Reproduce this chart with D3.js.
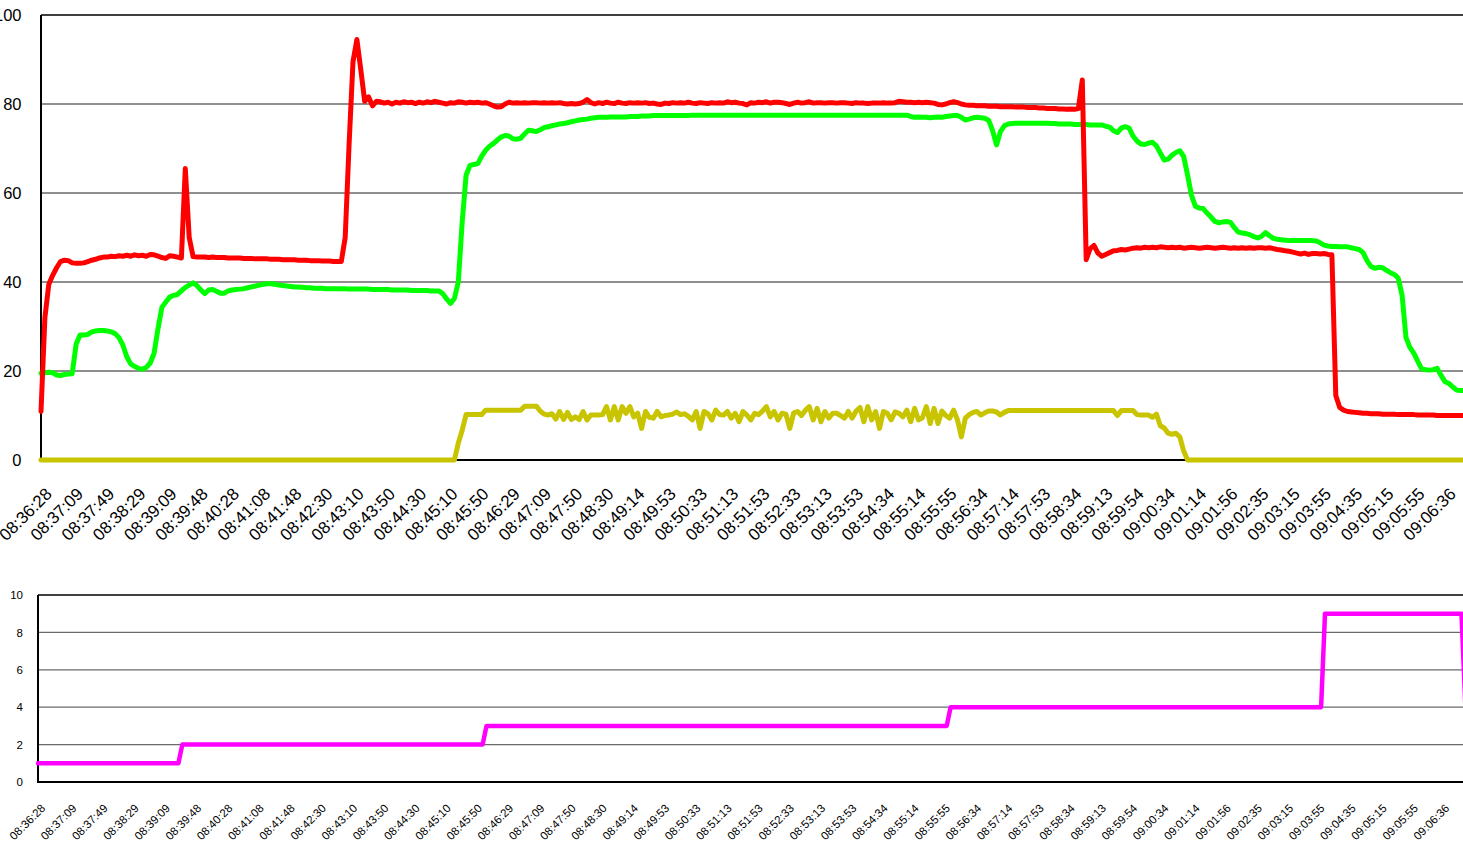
<!DOCTYPE html>
<html><head><meta charset="utf-8">
<script src="https://cdn.jsdelivr.net/npm/d3@7/dist/d3.min.js"></script>
<style>
html,body{margin:0;padding:0;background:#fff;overflow:hidden;}
svg{display:block;font-family:"Liberation Sans",Arial,sans-serif;}
</style></head><body>
<svg id="chart" width="1463" height="841"></svg>
<script>
// ---- data ----
const timeLabels = ["08:36:28","08:37:09","08:37:49","08:38:29","08:39:09","08:39:48","08:40:28","08:41:08","08:41:48","08:42:30","08:43:10","08:43:50","08:44:30","08:45:10","08:45:50","08:46:29","08:47:09","08:47:50","08:48:30","08:49:14","08:49:53","08:50:33","08:51:13","08:51:53","08:52:33","08:53:13","08:53:53","08:54:34","08:55:14","08:55:55","08:56:34","08:57:14","08:57:53","08:58:34","08:59:13","08:59:54","09:00:34","09:01:14","09:01:56","09:02:35","09:03:15","09:03:55","09:04:35","09:05:15","09:05:55","09:06:36"];
const samplesPerLabel = 8;
const topTicks = [0,20,40,60,80,100];
const bottomTicks = [0,2,4,6,8,10];

const redSeries = [
10.9,32,39.5,41.5,43.2,44.6,44.9,44.8,44.3,44.2,
44.2,44.3,44.6,44.9,45.1,45.4,45.6,45.6,45.8,45.7,
45.9,45.8,46.0,45.8,46.1,45.9,46.0,45.8,46.2,46.1,
45.8,45.5,45.3,45.9,45.8,45.6,45.4,65.5,50.0,45.7,
45.6,45.6,45.6,45.5,45.6,45.5,45.5,45.5,45.4,45.4,
45.4,45.4,45.3,45.3,45.3,45.2,45.2,45.2,45.2,45.1,
45.1,45.1,45.0,45.0,45.0,45.0,44.9,44.9,44.9,44.8,
44.8,44.8,44.7,44.7,44.7,44.6,44.6,44.6,50.0,71.0,
89.5,94.5,87.7,80.6,81.6,79.6,80.6,80.5,80.2,80.4,
80.0,80.4,80.2,80.5,80.3,80.4,80.1,80.4,80.2,80.5,
80.3,80.6,80.4,80.2,80.0,80.3,80.2,80.5,80.4,80.2,
80.4,80.3,80.4,80.2,80.3,80.0,79.6,79.3,79.4,80.0,
80.4,80.2,80.3,80.2,80.3,80.2,80.3,80.3,80.2,80.3,
80.2,80.3,80.2,80.3,80.1,80.0,80.1,80.0,80.1,80.4,
81.0,80.3,80.0,80.3,80.1,80.4,80.2,80.1,80.4,80.2,
80.1,80.3,80.2,80.3,80.2,80.3,80.1,80.2,80.0,79.9,
80.2,80.1,80.3,80.2,80.3,80.2,80.4,80.2,80.1,80.3,
80.2,80.1,80.3,80.2,80.3,80.2,80.5,80.3,80.4,80.2,
80.1,79.8,80.3,80.2,80.4,80.3,80.5,80.2,80.4,80.4,
80.3,80.1,79.9,80.2,80.4,80.2,80.3,80.5,80.2,80.3,
80.3,80.2,80.3,80.3,80.2,80.3,80.3,80.2,80.1,80.3,
80.2,80.2,80.1,80.2,80.2,80.2,80.3,80.2,80.2,80.3,
80.6,80.5,80.4,80.4,80.3,80.4,80.3,80.4,80.3,80.2,
79.9,79.8,80.0,80.3,80.5,80.3,80.0,79.8,79.7,79.7,
79.6,79.6,79.6,79.5,79.5,79.5,79.4,79.4,79.4,79.4,
79.3,79.3,79.3,79.2,79.2,79.2,79.1,79.1,79.0,79.0,
79.0,78.9,78.9,78.8,78.9,78.8,79.0,85.4,45.0,47.5,
48.2,46.5,45.8,46.2,46.6,47.0,47.1,47.3,47.2,47.4,
47.6,47.7,47.6,47.8,47.7,47.8,47.7,47.9,47.8,47.7,
47.8,47.7,47.8,47.6,47.7,47.8,47.7,47.6,47.7,47.8,
47.7,47.6,47.7,47.8,47.7,47.6,47.7,47.6,47.7,47.6,
47.7,47.6,47.7,47.7,47.6,47.7,47.5,47.3,47.2,47.0,
46.9,46.7,46.5,46.3,46.5,46.2,46.4,46.4,46.3,46.4,
46.2,46.1,14.5,11.8,11.2,10.9,10.8,10.7,10.6,10.5,
10.5,10.4,10.4,10.4,10.3,10.3,10.3,10.3,10.2,10.2,
10.2,10.2,10.2,10.1,10.1,10.1,10.1,10.1,10.0,10.0,
10.0,10.0,10.0,10.0,10.0,10.0,10.0];

const greenSeries = [
19.5,19.6,19.7,19.6,19.1,19.0,19.2,19.3,19.4,26.0,
28.1,28.1,28.2,28.8,29.0,29.1,29.1,29.0,28.8,28.4,
27.5,25.8,23.2,21.6,21.0,20.6,20.4,20.8,21.8,24.0,
29.5,34.3,35.5,36.6,37.0,37.2,38.0,38.8,39.3,39.8,
39.2,38.2,37.4,38.2,38.3,37.9,37.5,37.5,38.0,38.2,
38.3,38.4,38.5,38.7,38.9,39.1,39.3,39.5,39.6,39.6,
39.5,39.3,39.2,39.1,39.0,38.9,38.9,38.8,38.7,38.7,
38.6,38.6,38.6,38.5,38.5,38.5,38.5,38.5,38.5,38.4,
38.4,38.4,38.4,38.4,38.4,38.3,38.3,38.3,38.3,38.3,
38.2,38.2,38.2,38.2,38.2,38.1,38.1,38.1,38.1,38.1,
38.0,38.0,38.0,37.4,36.2,35.2,36.3,40.0,53.5,64.0,
66.2,66.4,66.6,68.3,69.6,70.5,71.1,71.9,72.6,72.9,
72.8,72.2,72.1,72.3,73.3,74.1,74.0,73.8,74.2,74.7,
74.9,75.1,75.3,75.5,75.6,75.8,76.0,76.2,76.4,76.5,
76.6,76.8,76.9,77.0,77.0,77.0,77.1,77.1,77.1,77.1,
77.1,77.2,77.2,77.2,77.3,77.3,77.3,77.4,77.4,77.4,
77.4,77.4,77.4,77.4,77.4,77.4,77.4,77.5,77.5,77.5,
77.5,77.5,77.5,77.5,77.5,77.5,77.5,77.5,77.5,77.5,
77.5,77.5,77.5,77.5,77.5,77.5,77.5,77.5,77.5,77.5,
77.5,77.5,77.5,77.5,77.5,77.5,77.5,77.5,77.5,77.5,
77.5,77.5,77.5,77.5,77.5,77.5,77.5,77.5,77.5,77.5,
77.5,77.5,77.5,77.5,77.5,77.5,77.5,77.5,77.5,77.5,
77.5,77.5,77.5,77.2,77.0,77.1,77.0,77.0,76.9,77.0,
77.1,77.0,77.2,77.3,77.4,77.4,77.0,76.4,76.6,76.9,
77.0,76.9,76.8,76.3,74.0,70.8,73.8,75.1,75.5,75.6,
75.7,75.7,75.7,75.7,75.7,75.7,75.7,75.7,75.7,75.6,
75.6,75.5,75.5,75.5,75.5,75.4,75.4,75.4,75.4,75.3,
75.3,75.3,75.3,75.0,74.8,74.0,73.6,74.6,74.9,74.6,
72.8,71.7,71.0,70.9,71.2,71.4,70.6,69.0,67.4,67.6,
68.5,69.1,69.5,68.2,64.0,59.5,57.0,56.6,56.5,55.5,
54.6,53.6,53.3,53.5,53.6,53.4,52.2,51.2,51.0,50.9,
50.6,50.2,49.9,50.3,51.1,50.4,49.8,49.6,49.5,49.4,
49.3,49.3,49.3,49.3,49.3,49.3,49.3,49.2,48.8,48.3,
48.1,48.0,48.0,47.9,47.9,47.9,47.7,47.5,47.3,46.6,
44.8,43.5,43.1,43.3,43.2,42.6,42.1,41.7,40.9,37.0,
27.5,25.3,24.0,22.2,20.5,20.3,20.2,20.3,20.6,19.0,
17.6,17.2,16.4,15.7,15.6,15.6,15.6];

const yellowSeries = [
0,0,0,0,0,0,0,0,0,0, 0,0,0,0,0,0,0,0,0,0,
0,0,0,0,0,0,0,0,0,0, 0,0,0,0,0,0,0,0,0,0,
0,0,0,0,0,0,0,0,0,0, 0,0,0,0,0,0,0,0,0,0,
0,0,0,0,0,0,0,0,0,0, 0,0,0,0,0,0,0,0,0,0,
0,0,0,0,0,0,0,0,0,0, 0,0,0,0,0,0,0,0,0,0,
0,0,0,0,0,0,0,3.8,6.7,10.2,
10.2,10.2,10.2,10.2,11.2,11.2,11.2,11.2,11.2,11.2,
11.2,11.2,11.2,11.2,12.1,12.1,12.1,12.1,11.0,10.3,
10.1,10.4,9.2,10.9,9.1,10.7,9.1,9.7,9.1,10.9,
9.0,10.1,10.1,10.1,10.2,12.0,9.0,12.0,9.0,12.0,
10.5,12.0,9.7,10.5,7.1,10.9,9.6,9.4,10.9,9.7,
10.0,10.1,10.3,10.8,10.2,10.4,9.8,9.0,10.9,7.1,
10.9,10.4,9.0,11.2,10.2,10.1,10.9,9.4,10.5,8.6,
10.9,10.1,9.0,10.5,10.2,11.0,12.0,9.7,10.9,9.0,
10.5,10.3,7.1,10.6,10.9,10.0,11.2,12.0,9.0,11.6,
8.6,10.9,9.4,10.5,10.5,10.0,9.4,10.9,9.4,11.0,
11.8,8.6,12.0,9.0,10.9,7.1,10.9,10.5,9.0,10.8,
10.5,9.7,11.2,8.6,11.6,9.0,9.5,12.0,8.2,11.6,
8.2,11.0,10.0,9.4,11.2,9.0,5.2,9.4,10.2,10.7,
10.9,10.1,10.6,11.0,11.0,10.8,10.1,10.7,11.1,11.1,
11.1,11.1,11.1,11.1,11.1,11.1,11.1,11.1,11.1,11.1,
11.1,11.1,11.1,11.1,11.1,11.1,11.1,11.1,11.1,11.1,
11.1,11.1,11.1,11.1,11.1,11.1,10.0,11.1,11.1,11.1,
11.1,10.2,10.1,10.1,10.1,9.6,10.3,7.7,7.2,6.0,
5.8,6.0,5.2,2.0,0,0,0,0,0,0,
0,0,0,0,0,0,0,0,0,0, 0,0,0,0,0,0,0,0,0,0,
0,0,0,0,0,0,0,0,0,0, 0,0,0,0,0,0,0,0,0,0,
0,0,0,0,0,0,0,0,0,0, 0,0,0,0,0,0,0,0,0,0,
0,0,0,0,0,0,0];

const magentaSeries = [
1,1,1,1,1,1,1,1,1,1, 1,1,1,1,1,1,1,1,1,1,
1,1,1,1,1,1,1,1,1,1, 1,1,1,1,1,1,1,2,2,2,
2,2,2,2,2,2,2,2,2,2, 2,2,2,2,2,2,2,2,2,2,
2,2,2,2,2,2,2,2,2,2, 2,2,2,2,2,2,2,2,2,2,
2,2,2,2,2,2,2,2,2,2, 2,2,2,2,2,2,2,2,2,2,
2,2,2,2,2,2,2,2,2,2, 2,2,2,2,2,3,3,3,3,3,
3,3,3,3,3,3,3,3,3,3, 3,3,3,3,3,3,3,3,3,3,
3,3,3,3,3,3,3,3,3,3, 3,3,3,3,3,3,3,3,3,3,
3,3,3,3,3,3,3,3,3,3, 3,3,3,3,3,3,3,3,3,3,
3,3,3,3,3,3,3,3,3,3, 3,3,3,3,3,3,3,3,3,3,
3,3,3,3,3,3,3,3,3,3, 3,3,3,3,3,3,3,3,3,3,
3,3,3,3,3,3,3,3,3,3, 3,3,3,3,4,4,4,4,4,4,
4,4,4,4,4,4,4,4,4,4, 4,4,4,4,4,4,4,4,4,4,
4,4,4,4,4,4,4,4,4,4, 4,4,4,4,4,4,4,4,4,4,
4,4,4,4,4,4,4,4,4,4, 4,4,4,4,4,4,4,4,4,4,
4,4,4,4,4,4,4,4,4,4, 4,4,4,4,4,4,4,4,4,4,
4,4,4,4,4,4,4,4,4,4, 9,9,9,9,9,9,9,9,9,9,
9,9,9,9,9,9,9,9,9,9, 9,9,9,9,9,9,9,9,9,9,
9,9,9,9,9,9,4];

// ---- drawing ----
const svg = d3.select("#chart");
const font = '"Liberation Sans", Arial, sans-serif';
const labelStep = 31.2;
const lastLabelIdx = (timeLabels.length - 1) * samplesPerLabel;

function panel(cfg) {
  const x = d3.scaleLinear().domain([0, lastLabelIdx])
    .range([cfg.left, cfg.left + (timeLabels.length - 1) * labelStep]);
  const y = d3.scaleLinear().domain(cfg.yDomain).range([cfg.bottom, cfg.top]);
  const g = svg.append("g");
  const right = 1470;

  // grid lines
  g.append("g").selectAll("line").data(cfg.yTicks.filter(t => t !== cfg.yDomain[0] && t !== cfg.yDomain[1]))
    .join("line")
    .attr("x1", cfg.left).attr("x2", right)
    .attr("y1", d => y(d)).attr("y2", d => y(d))
    .attr("stroke", "#6a6a6a").attr("stroke-width", 1.3);
  // top border
  g.append("line").attr("x1", cfg.left).attr("x2", right)
    .attr("y1", y(cfg.yDomain[1])).attr("y2", y(cfg.yDomain[1]))
    .attr("stroke", "#000").attr("stroke-width", 1.5);
  // bottom axis
  g.append("line").attr("x1", cfg.left).attr("x2", right)
    .attr("y1", y(cfg.yDomain[0])).attr("y2", y(cfg.yDomain[0]))
    .attr("stroke", "#000").attr("stroke-width", 2);
  // left axis
  g.append("line").attr("x1", cfg.left).attr("x2", cfg.left)
    .attr("y1", y(cfg.yDomain[0]) + 1).attr("y2", y(cfg.yDomain[1]))
    .attr("stroke", "#000").attr("stroke-width", 2);

  // y tick labels
  g.append("g").selectAll("text").data(cfg.yTicks).join("text")
    .attr("x", cfg.yLabelX).attr("y", d => y(d))
    .attr("dy", "0.36em").attr("text-anchor", "end")
    .attr("font-family", font).attr("font-size", cfg.yFont).attr("fill", "#000")
    .text(d => d);

  // x tick labels
  const tickIdx = timeLabels.map((t, k) => k * samplesPerLabel);
  g.append("g").selectAll("text").data(tickIdx).join("text")
    .attr("transform", (d) => `translate(${x(d) + cfg.xLabelDx},${cfg.xLabelY}) rotate(-45)`)
    .attr("text-anchor", "end")
    .attr("font-family", font).attr("font-size", cfg.xFont).attr("fill", "#000")
    .text((d, k) => timeLabels[k]);

  // series lines
  const line = d3.line().x((d, i) => x(i)).y(d => y(d));
  cfg.series.forEach(s => {
    g.append("path").datum(s.values)
      .attr("d", line).attr("fill", "none")
      .attr("stroke", s.color).attr("stroke-width", s.width)
      .attr("stroke-linejoin", "round").attr("stroke-linecap", "round");
  });
}

panel({
  left: 41, top: 15, bottom: 460, yDomain: [0, 100], yTicks: topTicks,
  yLabelX: 21.5, yFont: 16.5, xFont: 17, xLabelDx: 12, xLabelY: 495,
  series: [
    {values: greenSeries, color: "#00ff00", width: 5},
    {values: redSeries, color: "#ff0000", width: 5},
    {values: yellowSeries, color: "#c8c400", width: 5}
  ]
});

panel({
  left: 38, top: 595, bottom: 782, yDomain: [0, 10], yTicks: bottomTicks,
  yLabelX: 23, yFont: 11.5, xFont: 11.5, xLabelDx: 8, xLabelY: 809,
  series: [
    {values: magentaSeries, color: "#ff00ff", width: 4.5}
  ]
});
</script>
</body></html>
